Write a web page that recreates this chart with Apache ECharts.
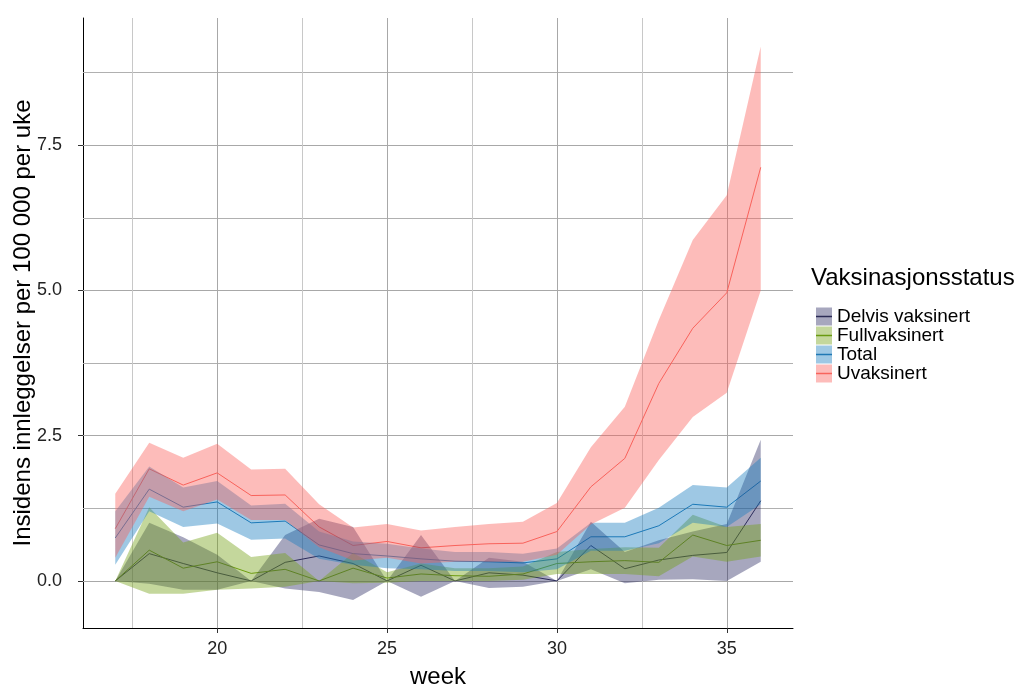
<!DOCTYPE html>
<html><head><meta charset="utf-8">
<script src="https://cdn.jsdelivr.net/npm/echarts@6/dist/echarts.min.js"></script>
<style>html,body{margin:0;padding:0;background:#fff}#c{width:1021px;height:686px}</style>
</head><body><div id="c"></div>
<script>
const weeks = [17,18,19,20,21,22,23,24,25,26,27,28,29,30,31,32,33,34,35,36];

const delvisMid = [0,0.47,0.30,0.14,0,0.32,0.43,0.30,0,0.27,0,0.14,0.10,0,0.61,0.21,0.36,0.44,0.49,1.38];
const delvisLo  = [0,-0.05,-0.15,-0.15,0,-0.13,-0.19,-0.33,0,-0.27,0,-0.12,-0.10,0,0.20,-0.04,0.02,0.03,0.00,0.33];
const delvisHi  = [0,1.00,0.75,0.45,0,0.79,1.07,0.93,0,0.79,0,0.40,0.33,0,1.02,0.50,0.70,0.85,0.98,2.43];

const fullMid = [0,0.53,0.22,0.33,0.13,0.20,0,0.22,0.05,0.12,0.09,0.08,0.12,0.30,0.33,0.35,0.32,0.79,0.61,0.70];
const fullLo  = [0,-0.22,-0.22,-0.15,-0.13,-0.10,0,-0.04,-0.03,0.00,0.00,0.00,0.02,0.12,0.12,0.12,0.08,0.42,0.33,0.42];
const fullHi  = [0,1.27,0.66,0.83,0.41,0.48,0,0.48,0.15,0.30,0.22,0.22,0.25,0.50,0.55,0.58,0.57,1.14,0.93,0.98];

const totalMid = [0.74,1.58,1.27,1.36,1.00,1.03,0.62,0.47,0.43,0.38,0.34,0.33,0.31,0.38,0.76,0.76,0.95,1.32,1.27,1.72];
const totalLo  = [0.28,1.20,0.93,0.99,0.71,0.73,0.38,0.28,0.22,0.20,0.17,0.17,0.15,0.20,0.52,0.52,0.65,1.00,0.93,1.32];
const totalHi  = [1.20,1.97,1.61,1.72,1.30,1.33,0.85,0.68,0.64,0.56,0.50,0.50,0.47,0.56,1.00,1.00,1.26,1.65,1.61,2.12];

const uvakMid = [0.90,1.93,1.65,1.86,1.47,1.48,0.93,0.61,0.68,0.57,0.61,0.64,0.65,0.85,1.62,2.11,3.40,4.35,4.96,7.12];
const uvakLo  = [0.40,1.45,1.20,1.40,1.05,1.05,0.58,0.35,0.40,0.30,0.33,0.33,0.33,0.45,0.97,1.26,2.08,2.82,3.24,5.00];
const uvakHi  = [1.50,2.38,2.12,2.36,1.92,1.93,1.32,0.92,0.98,0.87,0.93,0.98,1.02,1.34,2.30,3.00,4.49,5.87,6.64,9.20];

const seriesNames = ['Delvis vaksinert','Fullvaksinert','Total','Uvaksinert'];
const xTicks = [20,25,30,35];
const xMinorGrid = [17.5,22.5,27.5,32.5];
const yTicks = [0,2.5,5,7.5];
const yMinorGrid = [1.25,3.75,6.25,8.75];

const FONT = 'Liberation Sans, Arial, sans-serif';
const groups = [
  {name:seriesNames[0], mid:delvisMid, lo:delvisLo, hi:delvisHi, fill:'rgba(45,45,100,0.42)', line:'#2b2b55'},
  {name:seriesNames[1], mid:fullMid, lo:fullLo, hi:fullHi, fill:'rgba(115,160,20,0.42)', line:'#6a9a10'},
  {name:seriesNames[2], mid:totalMid, lo:totalLo, hi:totalHi, fill:'rgba(25,125,190,0.42)', line:'#1f78b4'},
  {name:seriesNames[3], mid:uvakMid, lo:uvakLo, hi:uvakHi, fill:'rgba(250,95,90,0.42)', line:'#f8645c'}
];

const gridData = [
  ...yTicks.map(v => ({yAxis:v, lineStyle:{color:'#a8a8a8'}})),
  ...yMinorGrid.map(v => ({yAxis:v, lineStyle:{color:'#b0b0b0'}})),
  ...xTicks.map(v => ({xAxis:v, lineStyle:{color:'#a8a8a8'}})),
  ...xMinorGrid.map(v => ({xAxis:v, lineStyle:{color:'#c8c8c8'}}))
];

const series = [];
groups.forEach((g, i) => {
  const s = {
    type:'line', name:'line:' + g.name,
    data: weeks.map((w, j) => [w, g.mid[j]]),
    symbol:'none', lineStyle:{width:1, color:g.line}, itemStyle:{color:g.line},
    silent:true, z:2, emphasis:{disabled:true}
  };
  if (i === 0) {
    s.markLine = {
      silent:true, symbol:['none','none'], label:{show:false}, z:1,
      lineStyle:{width:1, type:'solid'}, emphasis:{disabled:true},
      data: gridData, animation:false
    };
  }
  series.push(s);
});
groups.forEach((g) => {
  series.push({
    type:'custom', name:g.name, silent:true, z:3,
    itemStyle:{color:g.fill},
    data: weeks.map((w, j) => [w, g.lo[j], g.hi[j]]),
    encode:{x:0, y:[1,2]},
    renderItem: function (params, api) {
      if (params.dataIndex !== 0) return null;
      const pts = [];
      for (let j = 0; j < weeks.length; j++) pts.push(api.coord([weeks[j], g.hi[j]]));
      for (let j = weeks.length - 1; j >= 0; j--) pts.push(api.coord([weeks[j], g.lo[j]]));
      return {type:'polygon', shape:{points:pts}, style:{fill:g.fill, stroke:null}};
    }
  });
});

const chart = echarts.init(document.getElementById('c'), null, {renderer:'canvas'});
chart.setOption({
  animation:false,
  backgroundColor:'#fff',
  title:{text:'Vaksinasjonsstatus', left:811, top:266, padding:0,
    textStyle:{fontSize:24, fontWeight:'normal', color:'#000', fontFamily:FONT}},
  legend:[
    {orient:'vertical', left:811, top:302, itemWidth:16, itemHeight:18, itemGap:0, itemTextGap:13,
     icon:'rect', selectedMode:false,
     data: groups.map(g => ({name:g.name, itemStyle:{color:g.fill, borderWidth:0}})),
     textStyle:{fontSize:19, lineHeight:19, color:'#000', fontFamily:FONT}},
    {orient:'vertical', left:811, top:302, itemWidth:16, itemHeight:1.5, itemGap:0, itemTextGap:13,
     icon:'rect', selectedMode:false, z:5, formatter:() => ' ',
     data: groups.map(g => ({name:'line:' + g.name, itemStyle:{color:g.line, borderWidth:0}})),
     textStyle:{fontSize:19, lineHeight:19, color:'#000', fontFamily:FONT}}
  ],
  grid:{left:83, right:228, top:18, bottom:58, containLabel:false, outerBoundsMode:'none'},
  xAxis:{
    type:'value', min:16.05, max:36.95,
    splitLine:{show:false},
    axisLine:{onZero:false, lineStyle:{color:'#000', width:1}},
    axisTick:{customValues:xTicks, length:5, lineStyle:{color:'#333'}},
    axisLabel:{customValues:xTicks, margin:12, fontSize:18, color:'#222', fontFamily:FONT},
    name:'week', nameLocation:'middle', nameGap:37, nameMoveOverlap:false,
    nameTextStyle:{fontSize:24, color:'#000', fontFamily:FONT}
  },
  yAxis:{
    type:'value', min:-0.81, max:9.69,
    splitLine:{show:false},
    axisLine:{show:true, onZero:false, lineStyle:{color:'#000', width:1}},
    axisTick:{show:true, customValues:yTicks, length:5, lineStyle:{color:'#333'}},
    axisLabel:{customValues:yTicks, margin:21, fontSize:18, color:'#222', fontFamily:FONT,
      formatter: v => Number(v).toFixed(1)},
    name:'Insidens innleggelser per 100 000 per uke', nameLocation:'middle', nameRotate:90, nameGap:48,
    nameMoveOverlap:false,
    nameTextStyle:{fontSize:24, color:'#000', fontFamily:FONT}
  },
  series: series
});
</script>
</body></html>
